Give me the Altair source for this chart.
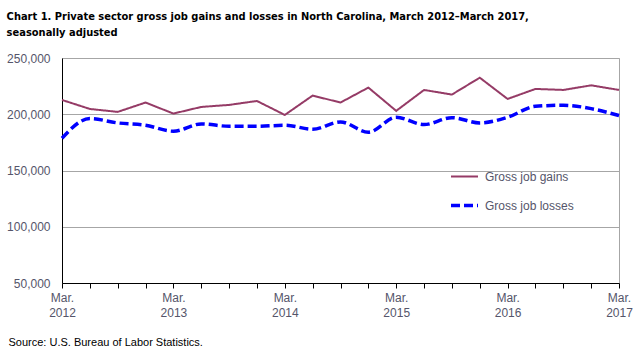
import altair as alt
import pandas as pd

quarters = ["Mar. 2012", "Jun. 2012", "Sep. 2012", "Dec. 2012",
            "Mar. 2013", "Jun. 2013", "Sep. 2013", "Dec. 2013",
            "Mar. 2014", "Jun. 2014", "Sep. 2014", "Dec. 2014",
            "Mar. 2015", "Jun. 2015", "Sep. 2015", "Dec. 2015",
            "Mar. 2016", "Jun. 2016", "Sep. 2016", "Dec. 2016",
            "Mar. 2017"]
gains = [212700, 204700, 202100, 210400, 200600, 206500, 208300, 211800,
         199400, 216600, 210400, 223700, 203000, 221600, 217500, 232500,
         213600, 222500, 221600, 225700, 221600]
losses = [178700, 196200, 192300, 190200, 184900, 191400, 189300, 189300,
          190200, 186700, 193200, 184000, 197300, 190800, 197000, 192300,
          197300, 207100, 208000, 205000, 198800]
series_names = ["Gross job gains", "Gross job losses"]
y_ticks = [50000, 100000, 150000, 200000, 250000]

rows = []
for q, g, l in zip(quarters, gains, losses):
    rows.append({"quarter": q, "series": series_names[0], "value": g})
    rows.append({"quarter": q, "series": series_names[1], "value": l})
df = pd.DataFrame(rows)

label_color = "#55556a"
FONT = "Liberation Sans"

x_enc = alt.X("quarter:O", sort=quarters,
              scale=alt.Scale(type="point", padding=0),
              axis=alt.Axis(
                  title="Source: U.S. Bureau of Labor Statistics.",
                  titleFont=FONT, titleFontSize=11, titleFontWeight="normal",
                  titleColor="#000000", titleAlign="left", titleBaseline="alphabetic",
                  titleX=-54, titleY=62, titleAnchor="start",
                  labelExpr="indexof(datum.label, 'Mar.') == 0 ? split(datum.label, ' ') : ''",
                  labelAngle=0, labelFont=FONT, labelFontSize=12, labelColor=label_color,
                  labelLineHeight=15, labelPadding=4, labelOverlap=False,
                  labelFlush=False, labelBound=False,
                  domainColor="#000000", domainWidth=1,
                  tickColor="#000000", tickSize=5, tickWidth=1,
                  grid=False))

y_enc = alt.Y("value:Q",
              scale=alt.Scale(domain=[50000, 250000], nice=False, zero=False),
              axis=alt.Axis(values=y_ticks, format=",d", title=None,
                            labelFont=FONT, labelFontSize=12, labelColor=label_color,
                            labelPadding=12, ticks=False,
                            domainColor="#000000", domainWidth=1,
                            grid=True, gridColor="#a6a6a6", gridWidth=1))

legend_kw = dict(title=None, orient="none", legendX=387, legendY=104,
                 symbolType="stroke", symbolSize=729, symbolStrokeWidth=3,
                 labelFont=FONT, labelFontSize=12, labelColor=label_color,
                 labelOffset=5, rowPadding=7)

color_enc = alt.Color("series:N",
                      scale=alt.Scale(domain=series_names, range=["#953b66", "#0000ff"]),
                      legend=alt.Legend(**legend_kw))
dash_enc = alt.StrokeDash("series:N",
                          scale=alt.Scale(domain=series_names, range=[[1, 0], [9, 4]]),
                          legend=alt.Legend(**legend_kw))
width_enc = alt.StrokeWidth("series:N",
                            scale=alt.Scale(domain=series_names, range=[2, 3.5]),
                            legend=None)

base = alt.Chart(df).encode(
    x=x_enc, y=y_enc, color=color_enc, strokeDash=dash_enc, strokeWidth=width_enc
)
gains_line = base.mark_line(interpolate="linear").transform_filter(
    alt.datum.series == series_names[0])
losses_line = base.mark_line(interpolate="monotone").transform_filter(
    alt.datum.series == series_names[1])

chart = alt.layer(gains_line, losses_line).properties(
    width=557, height=225,
    title=alt.TitleParams(
        text=["Chart 1. Private sector gross  job gains and losses  in North Carolina, March 2012\u2013March  2017,",
              "seasonally adjusted"],
        anchor="start", frame="bounds", dx=0, offset=14,
        font="DejaVu Sans Condensed, Liberation Sans Narrow, Liberation Sans",
        fontSize=11, fontWeight="bold", color="#000000", lineHeight=16),
    autosize=alt.AutoSizeParams(type="none"),
    padding={"left": 62, "top": 58, "right": 23, "bottom": 67},
).configure_view(stroke="#a6a6a6", strokeWidth=1)

chart.save("out.html", embed_options={"renderer": "svg", "actions": False})
